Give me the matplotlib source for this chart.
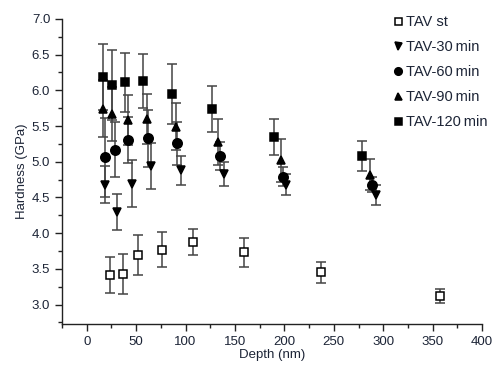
import matplotlib
matplotlib.use("Agg")
import matplotlib.pyplot as plt
from matplotlib.ticker import MultipleLocator

# TAV st (open squares)
st_depth = [24, 37, 52, 76, 108, 159, 237, 357]
st_hard = [3.41, 3.43, 3.70, 3.77, 3.88, 3.73, 3.45, 3.12]
st_err = [0.25, 0.28, 0.28, 0.24, 0.18, 0.20, 0.15, 0.10]

# TAV-30 min (down triangles)
m30_depth = [19, 31, 46, 65, 95, 139, 202, 293]
m30_hard = [4.68, 4.30, 4.69, 4.94, 4.88, 4.83, 4.68, 4.54]
m30_err = [0.26, 0.25, 0.33, 0.32, 0.20, 0.17, 0.15, 0.14]

# TAV-60 min (circles)
m60_depth = [19, 29, 42, 62, 91, 135, 199, 289]
m60_hard = [5.06, 5.17, 5.30, 5.33, 5.26, 5.08, 4.79, 4.68]
m60_err = [0.55, 0.38, 0.32, 0.40, 0.30, 0.20, 0.13, 0.10]

# TAV-90 min (up triangles)
m90_depth = [16, 26, 42, 61, 90, 133, 197, 287]
m90_hard = [5.74, 5.67, 5.59, 5.60, 5.49, 5.28, 5.02, 4.82]
m90_err = [0.40, 0.38, 0.35, 0.35, 0.33, 0.32, 0.30, 0.22]

# TAV-120 min (squares)
m120_depth = [16, 26, 39, 57, 86, 127, 189, 278]
m120_hard = [6.19, 6.08, 6.11, 6.13, 5.95, 5.74, 5.35, 5.08]
m120_err = [0.46, 0.49, 0.41, 0.38, 0.42, 0.32, 0.25, 0.21]

series = [
    ("TAV st", st_depth, st_hard, st_err, "s", "white"),
    ("TAV-30\u2009min", m30_depth, m30_hard, m30_err, "v", "black"),
    ("TAV-60\u2009min", m60_depth, m60_hard, m60_err, "o", "black"),
    ("TAV-90\u2009min", m90_depth, m90_hard, m90_err, "^", "black"),
    ("TAV-120\u2009min", m120_depth, m120_hard, m120_err, "s", "black"),
]

text_color = "#1c2436"
plt.rcParams["font.family"] = ["Liberation Sans", "DejaVu Sans"]

fig = plt.figure(figsize=(4.96, 3.71), dpi=100)
ax = fig.add_axes([0.125, 0.127, 0.847, 0.822])

for label, x, y, e, m, fc in series:
    ax.errorbar(x, y, yerr=e, fmt=m, color="black", mfc=fc, mec="black",
                mew=1.1, ms=6.3 if m != "o" else 6.8, ecolor="#444444",
                elinewidth=1.1, capsize=3.5, capthick=1.0, label=label,
                zorder=3 if fc == "black" else 2)

ax.set_xlim(-25, 400)
ax.set_ylim(2.73, 7.0)
ax.xaxis.set_minor_locator(MultipleLocator(25))
ax.yaxis.set_major_locator(MultipleLocator(0.5))
ax.yaxis.set_minor_locator(MultipleLocator(0.25))
ax.set_xticks(range(0, 401, 50))
ax.yaxis.set_major_formatter(plt.FuncFormatter(lambda v, p: f"{v:.1f}"))

for s in ["top", "right"]:
    ax.spines[s].set_visible(False)
for s in ["left", "bottom"]:
    ax.spines[s].set_linewidth(1.0)
    ax.spines[s].set_color("#222222")

ax.tick_params(which="major", direction="out", length=5, width=1.0,
               labelsize=9.5, labelcolor=text_color, color="#222222")
ax.tick_params(which="minor", direction="out", length=3, width=1.0,
               color="#222222")

ax.set_xlabel("Depth (nm)", fontsize=9.5, color=text_color, labelpad=1)
ax.set_ylabel("Hardness (GPa)", fontsize=9.5, color=text_color, labelpad=3)

handles, labels = ax.get_legend_handles_labels()
handles = [h[0] for h in handles]
leg = ax.legend(handles, labels, loc="upper right", bbox_to_anchor=(1.045, 1.055),
                frameon=False, fontsize=10.5, handlelength=0.6, handletextpad=0.3,
                labelspacing=0.75, markerscale=0.8)
for t in leg.get_texts():
    t.set_color(text_color)

fig.savefig("out.png", dpi=100)
